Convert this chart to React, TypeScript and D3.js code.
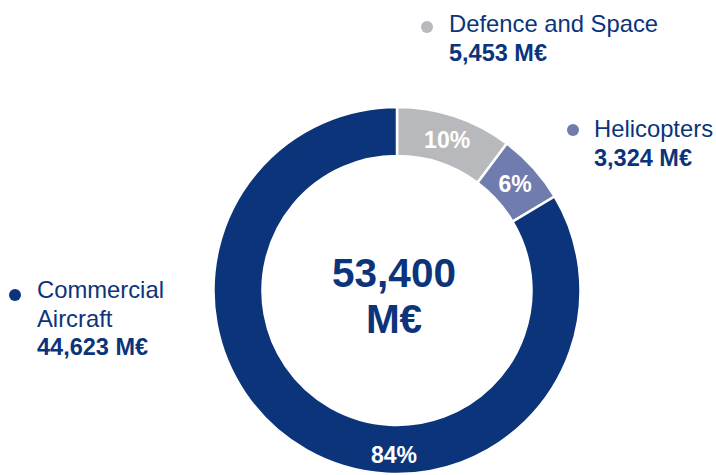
import React from "react";
import * as d3 from "d3";

const categories = ["Defence and Space", "Helicopters", "Commercial Aircraft"];
const values = [5453, 3324, 44623];
const valueLabels = ["5,453 M€", "3,324 M€", "44,623 M€"];
const percentLabels = ["10%", "6%", "84%"];
const totalLabel = ["53,400", "M€"];
const colors = ["#b8b9bd", "#717cae", "#0b347b"];

const W = 716;
const H = 475;
const NAVY = "#0b347b";
const FONT = "'Liberation Sans', Arial, Helvetica, sans-serif";

export default function App() {
  const cx = 397;
  const cy = 290.5;
  const rOuter = 183.5;
  const rInner = 134.5;

  const pie = d3.pie<number>().sort(null).value((d) => d)(values);
  const arc = d3.arc<any>().innerRadius(rInner).outerRadius(rOuter);
  const bottomArc = d3.arc<any>().innerRadius(rInner + 10).outerRadius(rOuter);

  const centroid = (i: number) => {
    if (i === 2) {
      const a = Math.PI; // commercial label sits at the bottom
      return bottomArc.centroid({ startAngle: a, endAngle: a } as any);
    }
    const a = (pie[i].startAngle + pie[i].endAngle) / 2;
    return arc.centroid({ startAngle: a, endAngle: a } as any);
  };

  const legends = [
    { dot: [427, 27], x: 449, lines: [[categories[0]], valueLabels[0]], y0: 32 },
    { dot: [573, 130], x: 594, lines: [[categories[1]], valueLabels[1]], y0: 137 },
    { dot: [15, 295], x: 37, lines: [["Commercial", "Aircraft"], valueLabels[2]], y0: 298 },
  ];

  return (
    <svg
      width={W}
      height={H}
      style={{ position: "absolute", left: 0, top: 0, background: "#fff" }}
      fontFamily={FONT}
    >
      <g transform={`translate(${cx},${cy})`}>
        {pie.map((p, i) => (
          <path key={i} d={arc(p) as string} fill={colors[i]} stroke="#fff" strokeWidth={2.5} />
        ))}
        {pie.map((p, i) => {
          const [x, y] = centroid(i);
          return (
            <text
              key={"p" + i}
              x={i === 2 ? x - 3 : x}
              y={y}
              dy="0.36em"
              textAnchor="middle"
              fill="#fff"
              fontWeight="bold"
              fontSize={23}
            >
              {percentLabels[i]}
            </text>
          );
        })}
        <text x={-3} y={-3.5} textAnchor="middle" fill={NAVY} fontWeight="bold" fontSize={40.5}>
          {totalLabel[0]}
        </text>
        <text x={-3} y={42.5} textAnchor="middle" fill={NAVY} fontWeight="bold" fontSize={40.5}>
          {totalLabel[1]}
        </text>
      </g>
      {legends.map((l, i) => {
        const nameLines = l.lines[0] as string[];
        return (
          <g key={"l" + i}>
            <circle cx={l.dot[0]} cy={l.dot[1]} r={6} fill={colors[i]} />
            {nameLines.map((t, j) => (
              <text key={j} x={l.x} y={l.y0 + j * 28.7} fill={NAVY} fontSize={23.8}>
                {t}
              </text>
            ))}
            <text
              x={l.x}
              y={l.y0 + nameLines.length * 28.7}
              fill={NAVY}
              fontWeight="bold"
              fontSize={23.5}
            >
              {l.lines[1] as string}
            </text>
          </g>
        );
      })}
    </svg>
  );
}
